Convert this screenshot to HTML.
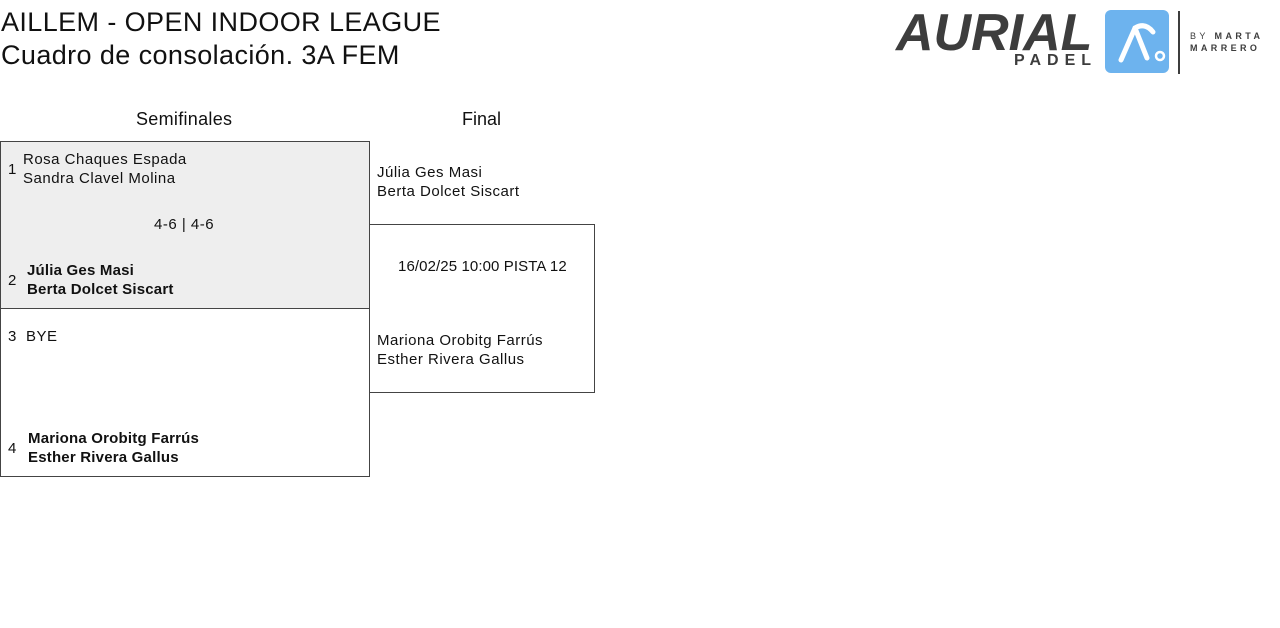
<!DOCTYPE html>
<html><head><meta charset="utf-8"><style>
body{margin:0;width:1280px;height:628px;background:#fff;font-family:"Liberation Sans",sans-serif;color:#111;position:relative;overflow:hidden}
.a{position:absolute;white-space:nowrap}
.t{font-size:27px;letter-spacing:0.4px}
.s{font-size:15px;line-height:19px;letter-spacing:0.5px}
.b{font-weight:bold;letter-spacing:0.2px}
.box{position:absolute;border:1px solid #444;box-sizing:border-box}
</style></head><body>
<div class="a t" style="left:1px;top:7px">AILLEM - OPEN INDOOR LEAGUE</div>
<div class="a t" style="left:1px;top:40px">Cuadro de consolación. 3A FEM</div>

<!-- logo -->
<div class="a" style="left:896px;top:3px;font-size:52px;font-weight:bold;font-style:italic;color:#3d3d3d;letter-spacing:0px">AURIAL</div>
<div class="a" style="left:1014px;top:52px;font-size:16px;font-weight:bold;color:#3d3d3d;letter-spacing:6px">PADEL</div>
<div class="a" style="left:1105px;top:10px;width:64px;height:63px;background:#6db3ee;border-radius:6px"></div>
<svg class="a" style="left:1105px;top:10px" width="64" height="63"><path d="M16 50 L30 18 Q40 12 48 22" fill="none" stroke="#fff" stroke-width="5" stroke-linecap="round"/><path d="M30 18 L42 48" stroke="#fff" stroke-width="5" stroke-linecap="round"/><circle cx="55" cy="46" r="4" fill="none" stroke="#fff" stroke-width="2.5"/></svg>
<div class="a" style="left:1178px;top:11px;width:2px;height:63px;background:#3d3d3d"></div>
<div class="a" style="left:1190px;top:30px;font-size:9px;color:#3d3d3d;letter-spacing:3.4px;line-height:12px">BY <b>MARTA</b><br><b>MARRERO</b></div>

<div class="a" style="left:136px;top:109px;font-size:18px;letter-spacing:0.3px">Semifinales</div>
<div class="a" style="left:462px;top:109px;font-size:18px">Final</div>

<div class="box" style="left:0;top:141px;width:370px;height:168px;background:#eeeeee"></div>
<div class="box" style="left:0;top:308px;width:370px;height:169px"></div>
<div class="box" style="left:369px;top:224px;width:226px;height:169px"></div>

<div class="a s" style="left:8px;top:160px">1</div>
<div class="a s" style="left:23px;top:150px">Rosa Chaques Espada<br>Sandra Clavel Molina</div>
<div class="a s" style="left:154px;top:215px">4-6 | 4-6</div>
<div class="a s" style="left:8px;top:271px">2</div>
<div class="a s b" style="left:27px;top:261px">Júlia Ges Masi<br>Berta Dolcet Siscart</div>

<div class="a s" style="left:8px;top:327px">3</div>
<div class="a s" style="left:26px;top:327px">BYE</div>
<div class="a s" style="left:8px;top:439px">4</div>
<div class="a s b" style="left:28px;top:429px">Mariona Orobitg Farrús<br>Esther Rivera Gallus</div>

<div class="a s" style="left:377px;top:163px">Júlia Ges Masi<br>Berta Dolcet Siscart</div>
<div class="a s" style="left:398px;top:257px;letter-spacing:0.1px">16/02/25 10:00 PISTA 12</div>
<div class="a s" style="left:377px;top:331px">Mariona Orobitg Farrús<br>Esther Rivera Gallus</div>
</body></html>
